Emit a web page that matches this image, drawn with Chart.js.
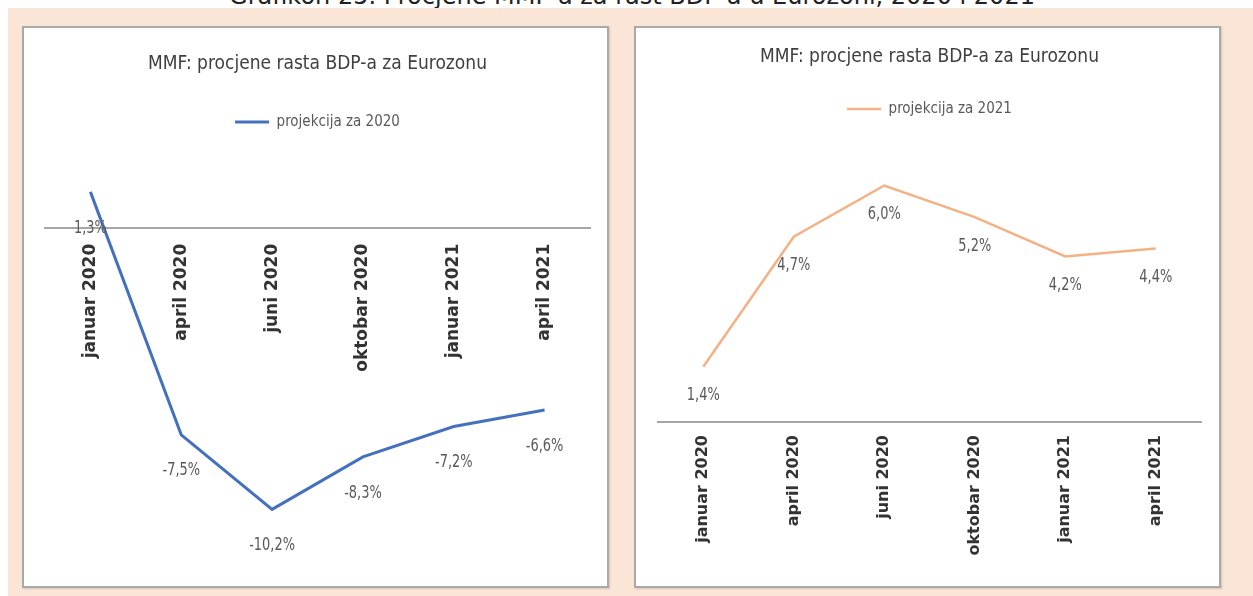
<!DOCTYPE html>
<html>
<head>
<meta charset="utf-8">
<title>MMF: procjene rasta BDP-a za Eurozonu</title>
<script src="https://cdn.jsdelivr.net/npm/chart.js@4.4.0/dist/chart.umd.min.js"></script>
<style>
  body { margin: 0; width: 1253px; height: 596px; overflow: hidden; position: relative; background: #fff; }
  #caption {
    position: absolute; left: 0; width: 1264px; top: -18px;
    text-align: center; font: 24px 'DejaVu Sans', Verdana, sans-serif; color: #222; white-space: nowrap;
  }
  #bg { position: absolute; left: 8px; top: 8px; right: 0; bottom: 0; background: #fbe5d6; }
  .panel {
    position: absolute; top: 26px; width: 587px; height: 562px; box-sizing: border-box;
    background: #fff; border: 2px solid #a9a9a9; box-shadow: 1px 1px 2px rgba(0,0,0,0.15);
  }
  .panel div { position: relative; width: 583px; height: 558px; }
</style>
</head>
<body>
<div id="caption">Grafikon 25. Procjene MMF-a za rast BDP-a u Eurozoni, 2020 i 2021</div>
<div id="bg"></div>
<div class="panel" style="left:22px"><div><canvas id="chart2020"></canvas></div></div>
<div class="panel" style="left:634px"><div><canvas id="chart2021"></canvas></div></div>
<script>
// IMF estimates of euro area GDP growth, by release date
const categories = ['januar 2020', 'april 2020', 'juni 2020', 'oktobar 2020', 'januar 2021', 'april 2021'];
const projection2020 = [1.3, -7.5, -10.2, -8.3, -7.2, -6.6];
const projection2021 = [1.4, 4.7, 6.0, 5.2, 4.2, 4.4];

const chartTitle = 'MMF: procjene rasta BDP-a za Eurozonu';
const narrowFont = "'Liberation Sans Narrow', 'DejaVu Sans Condensed', 'Roboto Condensed', sans-serif";

// value labels under each point, e.g. "-7,5%" (squeezed a bit like the original)
const pointLabels = {
  id: 'pointLabels',
  afterDatasetsDraw(chart, args, opts) {
    let ctx = chart.ctx;
    let meta = chart.getDatasetMeta(0);
    let values = chart.data.datasets[0].data;
    meta.data.forEach(function (pt, i) {
      let txt = values[i].toFixed(1).replace('.', ',') + '%';
      ctx.save();
      ctx.font = opts.size + 'px ' + narrowFont;
      ctx.fillStyle = '#595959';
      ctx.textAlign = 'center';
      ctx.textBaseline = 'middle';
      ctx.translate(pt.x, pt.y + opts.offset);
      ctx.scale(0.8, 1);
      ctx.fillText(txt, 0, 0);
      ctx.restore();
    });
  }
};

function makeChart(id, label, values, color, cfg) {
  return new Chart(document.getElementById(id), {
    type: 'line',
    data: {
      labels: categories,
      datasets: [{
        label: label,
        data: values,
        borderColor: color,
        backgroundColor: color,
        borderWidth: cfg.lineWidth,
        pointRadius: 0,
        tension: 0
      }]
    },
    options: {
      responsive: true,
      maintainAspectRatio: false,
      animation: false,
      layout: { padding: cfg.padding },
      plugins: {
        title: {
          display: true,
          text: chartTitle,
          color: '#404040',
          font: { family: narrowFont, size: 19, weight: 'normal', lineHeight: 1.2 },
          padding: cfg.titlePadding
        },
        legend: {
          labels: {
            usePointStyle: true,
            pointStyle: 'line',
            pointStyleWidth: 34,
            color: '#595959',
            font: { family: narrowFont, size: 15 },
            padding: 10
          }
        },
        tooltip: { enabled: false },
        pointLabels: { size: 18, offset: cfg.labelOffset }
      },
      scales: {
        x: {
          position: { y: 0 },
          offset: true,
          grid: { display: false, drawTicks: false },
          border: { display: true, color: '#a6a6a6', width: 2 },
          ticks: {
            minRotation: 90,
            maxRotation: 90,
            padding: cfg.tickPadding,
            color: '#333',
            font: { family: "'DejaVu Sans', Verdana, sans-serif", size: cfg.tickSize, weight: 'bold' }
          },
          // axis sits on the zero line, so it takes no room of its own
          afterFit: function (scale) { scale.height = 0; }
        },
        y: {
          display: false,
          min: cfg.min,
          max: cfg.max
        }
      }
    },
    plugins: [pointLabels]
  });
}

makeChart('chart2020', 'projekcija za 2020', projection2020, '#4570bd', {
  lineWidth: 3,
  padding: { left: 21, right: 17, top: 0, bottom: 38 },
  titlePadding: { top: 25, bottom: 28.6 },
  labelOffset: 36,
  tickPadding: 16,
  tickSize: 17,
  min: -11.6,
  max: 3.2
});

makeChart('chart2021', 'projekcija za 2021', projection2021, '#f4b183', {
  lineWidth: 2.5,
  padding: { left: 22, right: 18, top: 0, bottom: 164 },
  titlePadding: { top: 17.6, bottom: 23 },
  labelOffset: 29,
  tickPadding: 13,
  tickSize: 16,
  min: 0,
  max: 7.5
});
</script>
</body>
</html>
